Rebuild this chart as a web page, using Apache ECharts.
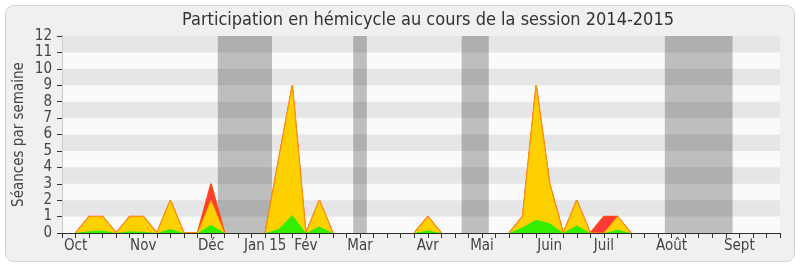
<!DOCTYPE html>
<html><head><meta charset="utf-8">
<script src="https://cdn.jsdelivr.net/npm/echarts@6/dist/echarts.min.js"></script>
<style>html,body{margin:0;padding:0;background:#fff}#c{width:800px;height:267px}</style>
</head><body><div id="c"></div>
<script>
// weeks k = 1..52 (x axis spans 0..53)
const firstWeek = 1;
const green  = [0,0.1,0.15,0,0.1,0.08,0,0.25,0,0, 0.5,0,0,0,0,0.25,1.1,0,0.4,0, 0,0,0,0,0,0,0.15,0,0,0, 0,0,0,0.35,0.8,0.6,0,0.45,0,0, 0.2,0,0,0,0,0,0,0,0,0, 0,0];
const yellow = [0,0.9,0.85,0,0.9,0.92,0,1.75,0,0, 1.5,0,0,0,0,4.25,7.9,0,1.6,0, 0,0,0,0,0,0,0.85,0,0,0, 0,0,0,0.65,8.2,2.4,0,1.55,0,0, 0.8,0,0,0,0,0,0,0,0,0, 0,0];
const red    = [0,0,0,0,0,0,0,0,0,0, 1,0,0,0,0,0,0,0,0,0, 0,0,0,0,0,0,0,0,0,0, 0,0,0,0,0,0,0,0,0,1, 0,0,0,0,0,0,0,0,0,0, 0,0];
const monthLabels = {1:'Oct',6:'Nov',11:'Déc',15:'Jan 15',18:'Fév',22:'Mar',27:'Avr',31:'Mai',36:'Juin',40:'Juil',45:'Août',50:'Sept'};
const vacations = [[11.5,15.5],[21.5,22.5],[29.5,31.5],[44.5,49.5]];
const yMax = 12;

const FONT = '"DejaVu Sans Condensed","DejaVu Sans",sans-serif';
// stacked tops computed from the layer arrays
const gTop = green.map(v=>v);
const yTop = green.map((v,i)=>v+yellow[i]);
const rTop = green.map((v,i)=>v+yellow[i]+red[i]);
// zero weeks surrounded by zero weeks are left out so no line runs along the axis
const toPts = arr => arr.map((v,i)=>{
  const flat = v===0 && (arr[i-1]||0)===0 && (arr[i+1]||0)===0;
  return [i+firstWeek, flat ? null : +v.toFixed(3)];
});

const stripes = [];
for (let y = 1; y < yMax; y += 2) stripes.push([{yAxis:y, itemStyle:{color:'rgba(0,0,0,0.08)'}},{yAxis:y+1}]);
const bands = vacations.map(b=>[{xAxis:b[0], itemStyle:{color:'#bebebe'}},{xAxis:b[1]}]);

const chart = echarts.init(document.getElementById('c'), null, {renderer:'canvas'});
chart.setOption({
  animation:false,
  backgroundColor:'#ffffff',
  graphic:[{type:'rect', z:-10, shape:{x:5.5,y:5.5,width:789,height:256,r:8},
    style:{fill:'#f0f0f0', stroke:'#d4d4d4', lineWidth:1}}],
  title:{text:'Participation en hémicycle au cours de la session 2014-2015', left:423, textAlign:'center', top:6,
    textStyle:{fontFamily:FONT, fontSize:18, fontWeight:'normal', color:'#333'}},
  grid:{left:62, right:20, top:36, bottom:34, show:true, backgroundColor:'#fafafa', borderWidth:0,
    containLabel:false, outerBoundsMode:'none'},
  xAxis:[{type:'value', min:0, max:53, interval:1, z:10,
    axisLine:{lineStyle:{color:'#222', width:1}},
    axisTick:{show:true, length:5, lineStyle:{color:'#333'}},
    splitLine:{show:false},
    axisLabel:{fontFamily:FONT, fontSize:15, color:'#444', margin:6,
      formatter:v=>monthLabels[v]||''}},
    {type:'value', position:'top', min:0, max:53, z:10,
     axisLine:{show:true, lineStyle:{color:'#333', type:'dotted'}},
     axisTick:{show:false}, axisLabel:{show:false}, splitLine:{show:false}}],
  yAxis:[{type:'value', min:0, max:yMax, interval:1, z:10,
    name:'Séances par semaine', nameLocation:'middle', nameGap:35, nameMoveOverlap:false,
    nameTextStyle:{fontFamily:FONT, fontSize:15, color:'#444'},
    axisLine:{show:true, lineStyle:{color:'#222'}},
    axisTick:{show:true, length:5, lineStyle:{color:'#333'}},
    splitLine:{show:false},
    axisLabel:{fontFamily:FONT, fontSize:15, color:'#444', margin:10}},
    {type:'value', position:'right', min:0, max:yMax, z:10,
     axisLine:{show:true, lineStyle:{color:'#cccccc'}}, axisTick:{show:false}, axisLabel:{show:false}, splitLine:{show:false}}],
  series:[
    {type:'line', data:[], silent:true, z:1, markArea:{silent:true, data:bands}},
    {type:'line', data:[], silent:true, z:1.5, markArea:{silent:true, data:stripes}},
    {name:'r', type:'line', data:toPts(rTop), showSymbol:false, z:3,
     lineStyle:{width:1.5, color:'#ff4a10'}, areaStyle:{color:'#ff3838', opacity:1}},
    {name:'y', type:'line', data:toPts(yTop), showSymbol:false, z:4,
     lineStyle:{width:1, color:'#ff9a00'}, areaStyle:{color:'#ffd000', opacity:1}},
    {name:'g', type:'line', data:toPts(gTop), showSymbol:false, z:5,
     lineStyle:{width:0}, areaStyle:{color:'#33ee00', opacity:1}}
  ]
});
</script></body></html>
